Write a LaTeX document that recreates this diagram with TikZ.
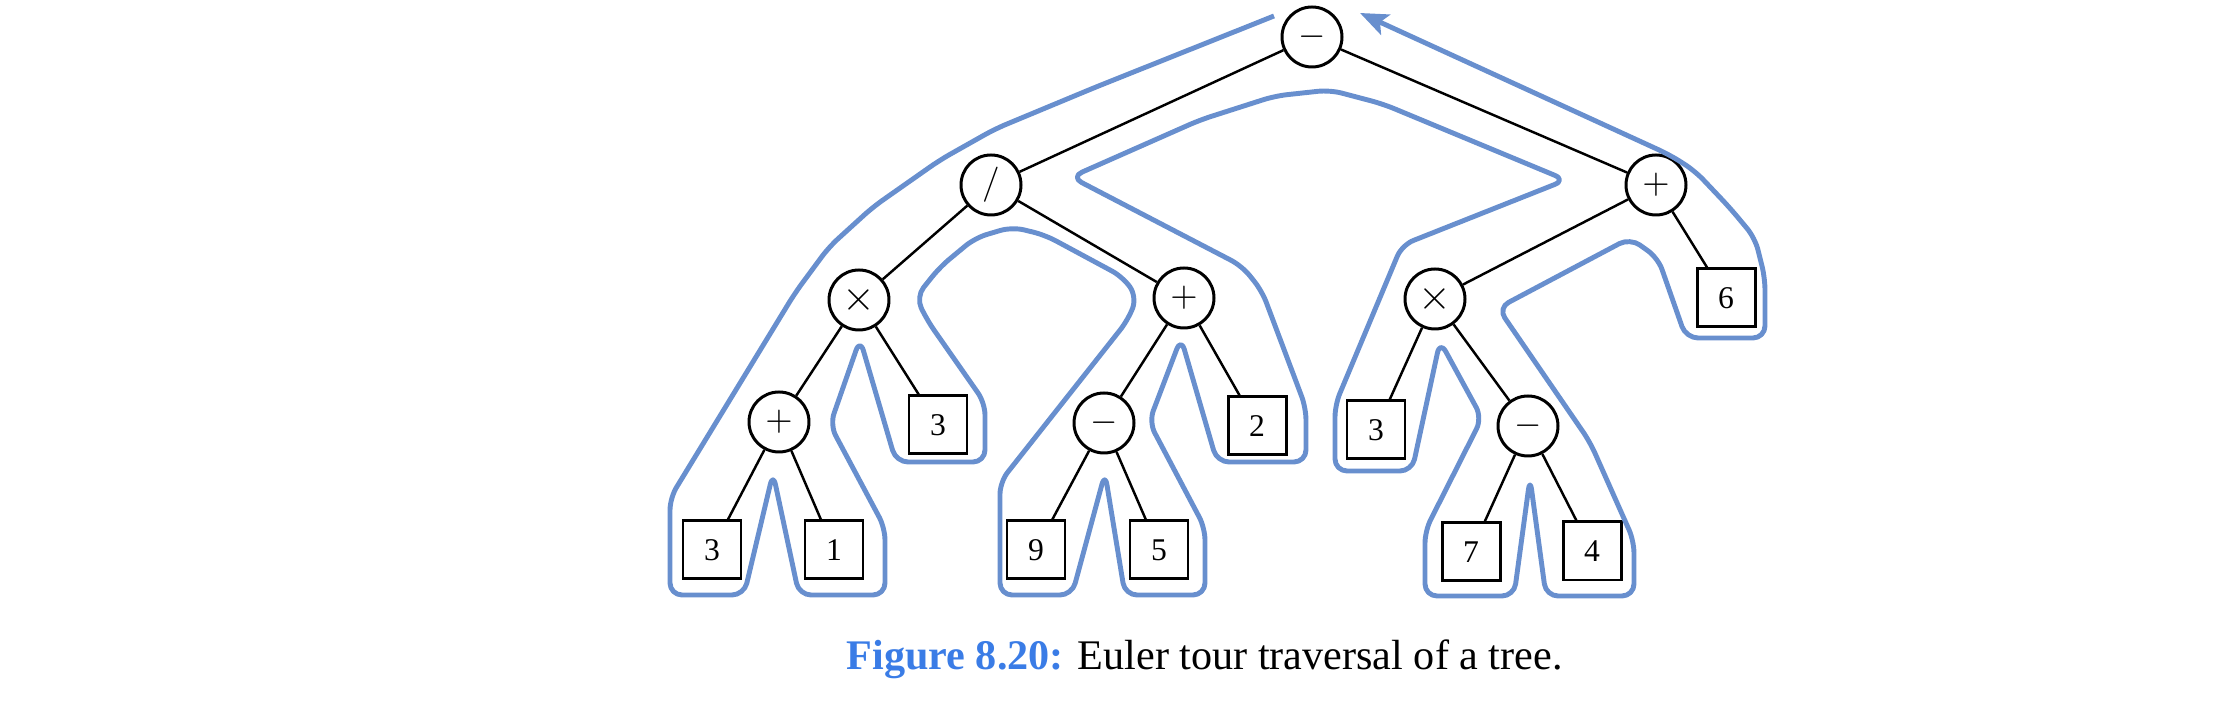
\documentclass[tikz,border=0pt]{standalone}
\usepackage{fontspec}
\setmainfont{Liberation Serif}
\usetikzlibrary{arrows.meta}
\definecolor{tourblue}{RGB}{104,143,206}
\definecolor{capblue}{RGB}{58,124,230}
\tikzset{
  op/.style={circle, draw, line width=0.85pt, minimum size=0.6cm, inner sep=0pt, font=\fontsize{10}{12}\selectfont},
  leaf/.style={rectangle, draw, line width=0.85pt, minimum size=0.58cm, inner sep=0pt, font=\fontsize{9}{11}\selectfont},
  link/.style={line width=0.7pt},
  tour/.style={tourblue, line width=1.4pt, rounded corners=0.12cm, line join=round}
}
\begin{document}
\begin{tikzpicture}[>={Stealth[length=0.28cm, width=0.22cm, inset=0.06cm]}]
\useasboundingbox (0,0) rectangle (22.24,7.13);
% inner nodes
\node[op] (root) at (13.12,6.76) {$-$};
\node[op] (div) at (9.91,5.28) {$/$};
\node[op] (plusR) at (16.56,5.28) {$+$};
\node[op] (timesL) at (8.59,4.13) {\fontsize{13}{14}\selectfont$\times$};
\node[op] (plusM) at (11.84,4.15) {$+$};
\node[op] (timesR) at (14.35,4.14) {\fontsize{13}{14}\selectfont$\times$};
\node[op] (plusL) at (7.79,2.91) {$+$};
\node[op] (minusM) at (11.04,2.90) {$-$};
\node[op] (minusR) at (15.28,2.87) {$-$};
% leaves
\node[leaf] (six) at (17.26,4.15) {6};
\node[leaf] (threeA) at (9.38,2.88) {3};
\node[leaf] (two) at (12.57,2.87) {2};
\node[leaf] (threeB) at (13.76,2.83) {3};
\node[leaf] (threeC) at (7.12,1.63) {3};
\node[leaf] (one) at (8.34,1.63) {1};
\node[leaf] (nine) at (10.36,1.63) {9};
\node[leaf] (five) at (11.59,1.63) {5};
\node[leaf] (seven) at (14.71,1.61) {7};
\node[leaf] (four) at (15.92,1.62) {4};
% edges
\foreach \a/\b in {root/div, root/plusR, div/timesL, div/plusM, timesL/plusL, timesL/threeA,
  plusL/threeC, plusL/one, plusM/minusM, plusM/two, minusM/nine, minusM/five,
  plusR/timesR, plusR/six, timesR/threeB, timesR/minusR, minusR/seven, minusR/four}
  \draw[link] (\a) -- (\b);
% Euler tour
\draw[tour, ->] (12.74,6.97) -- (10.96,6.26) -- (9.95,5.84) -- (9.40,5.53) -- (8.73,5.06)
  -- (8.29,4.66) -- (7.95,4.20) -- (6.70,2.15) -- (6.70,1.18) -- (7.44,1.18)
  -- (7.73,2.40) -- (7.99,1.18) -- (8.85,1.18) -- (8.85,1.85) -- (8.30,2.88)
  -- (8.60,3.74) -- (8.96,2.51) -- (9.85,2.51) -- (9.85,3.10) -- (9.27,3.93)
  -- (9.16,4.16) -- (9.40,4.46) -- (9.75,4.75) -- (10.12,4.86) -- (10.45,4.78)
  -- (11.23,4.36) -- (11.37,4.16) -- (11.28,3.93) -- (10.00,2.31) -- (10.00,1.18)
  -- (10.72,1.18) -- (11.05,2.40) -- (11.25,1.18) -- (12.05,1.18) -- (12.05,1.85)
  -- (11.49,2.91) -- (11.81,3.75) -- (12.17,2.51) -- (13.06,2.51) -- (13.06,3.05)
  -- (12.62,4.22) -- (12.42,4.47) -- (10.71,5.36) -- (12.00,5.93) -- (12.75,6.17)
  -- (13.30,6.23) -- (13.83,6.09) -- (15.66,5.33) -- (14.02,4.68) -- (13.35,3.08)
  -- (13.35,2.42) -- (14.12,2.42) -- (14.40,3.72) -- (14.82,2.95) -- (14.25,1.82)
  -- (14.25,1.17) -- (15.14,1.17) -- (15.30,2.35) -- (15.46,1.17) -- (16.34,1.17)
  -- (16.34,1.72) -- (15.90,2.71) -- (14.98,4.05) -- (16.30,4.75) -- (16.58,4.55)
  -- (16.86,3.75) -- (17.65,3.75) -- (17.65,4.35) -- (17.55,4.75) -- (17.30,5.05)
  -- (16.95,5.42) -- (16.70,5.58) -- (13.60,7.00);
% caption
\node[anchor=base west, inner sep=0pt, font=\fontsize{12}{14}\selectfont] (cap) at (8.46,0.43)
  {\textcolor{capblue}{\textbf{Figure 8.20:}} Euler tour traversal of a tree.};
\end{tikzpicture}
\end{document}
